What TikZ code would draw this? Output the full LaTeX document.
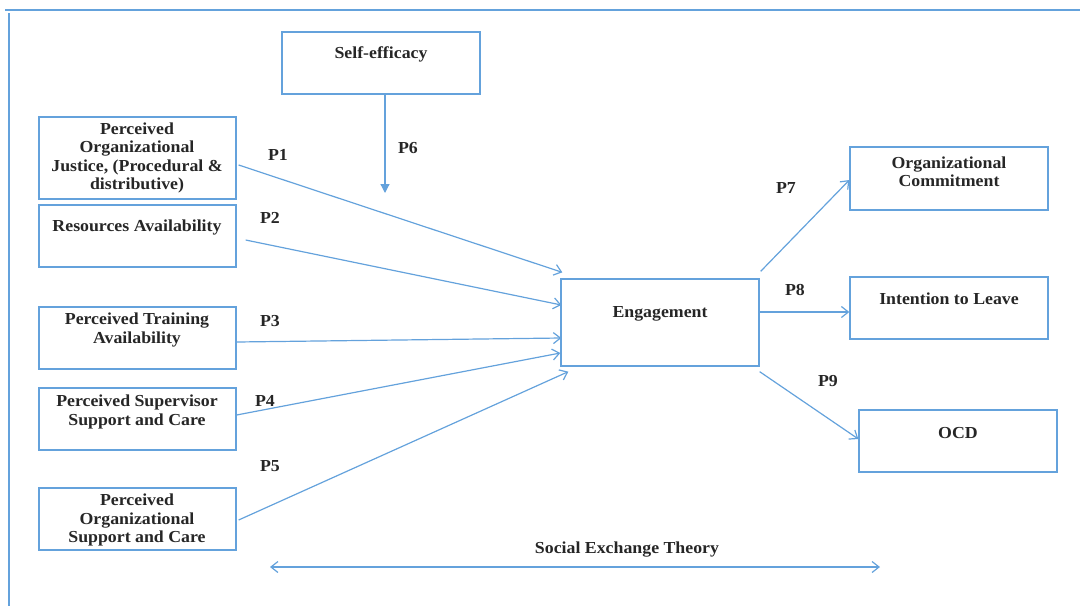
\documentclass[tikz,border=0pt]{standalone}
\usepackage{fontspec}
\setmainfont{Liberation Serif}[FakeStretch=1.06]
\usetikzlibrary{arrows.meta,calc}
\definecolor{lineblue}{RGB}{100,162,220}
\tikzset{
  box/.style={draw=lineblue, line width=1.3pt, rectangle, inner sep=0pt, minimum width=197pt},
  txt/.style={align=center, inner sep=0pt, font=\bfseries\fontsize{16.8}{18.5}\selectfont, text=black!85},
  plabel/.style={inner sep=0pt, font=\bfseries\fontsize{16.8}{18.5}\selectfont, text=black!85},
  conn/.style={draw=lineblue, line width=1.2pt, -{Straight Barb[length=7pt,width=11pt]}},
  frameline/.style={draw=lineblue, line width=1.3pt}
}
\begin{document}
\begin{tikzpicture}[x=1pt,y=-1pt]
\useasboundingbox (0,0) rectangle (1080,606);
% frame
\draw[frameline] (5,10) -- (1080,10);
\draw[frameline] (9,13) -- (9,606);
% boxes
\node[box, minimum width=198pt, minimum height=62pt] (self) at (381,63) {};
\node[box, minimum height=82pt] (poj) at (137.5,158) {};
\node[box, minimum height=62pt] (ra) at (137.5,236) {};
\node[box, minimum height=62pt] (pta) at (137.5,338) {};
\node[box, minimum height=62pt] (pss) at (137.5,419) {};
\node[box, minimum height=62pt] (pos) at (137.5,519) {};
\node[box, minimum width=198pt, minimum height=87pt] (eng) at (660,322.5) {};
\node[box, minimum width=198pt, minimum height=63pt] (oc) at (949,178.5) {};
\node[box, minimum width=198pt, minimum height=62pt] (itl) at (949,308) {};
\node[box, minimum width=198pt, minimum height=62pt] (ocd) at (958,441) {};
% texts
\node[txt] (tself) at (381,54) {Self-efficacy};
\node[txt] (tpoj) at (137,158) {Perceived\\Organizational\\Justice, (Procedural \&\\distributive)};
\node[txt] (tra) at (137,227) {Resources Availability};
\node[txt] (tpta) at (137,330) {Perceived Training\\Availability};
\node[txt] (tpss) at (137,412) {Perceived Supervisor\\Support and Care};
\node[txt] (tpos) at (137,520) {Perceived\\Organizational\\Support and Care};
\node[txt] (teng) at (660,314) {Engagement};
\node[txt] (toc) at (949,171.5) {Organizational\\Commitment};
\node[txt] (titl) at (949,299) {Intention to Leave};
\node[txt] (tocd) at (958,433) {OCD};
% labels
\node[plabel] (l1) at (278,155) {P1};
\node[plabel] (l2) at (270,218) {P2};
\node[plabel] (l3) at (270,321) {P3};
\node[plabel] (l4) at (265,401) {P4};
\node[plabel] (l5) at (270,466) {P5};
\node[plabel] (l6) at (408,148) {P6};
\node[plabel] (l7) at (786,188) {P7};
\node[plabel] (l8) at (795,290) {P8};
\node[plabel] (l9) at (828,381) {P9};
\node[txt] (tset) at (627,550) {Social Exchange Theory};
% connectors
\draw[conn] ($(poj.east)+(2,7)$) -- ($(eng.north west)+(2,-6)$);
\draw[conn] ($(ra.east)+(9,4)$) -- ($(eng.west)+(1,-17.5)$);
\draw[conn] ($(pta.east)+(0,4)$) -- ($(eng.west)+(1,15.5)$);
\draw[conn] ($(pss.east)+(0,-4)$) -- ($(eng.west)+(0,30.5)$);
\draw[conn] ($(pos.east)+(2,1)$) -- ($(eng.south west)+(8,5)$);
\coordinate (p6end) at (385,193);
\draw[draw=lineblue, line width=1.2pt, -{Triangle[length=9pt,width=9pt,fill=lineblue]}] ($(self.south)+(4,0)$) -- (p6end);
\draw[conn] ($(eng.north east)+(1,-7)$) -- ($(oc.west)+(0,1.5)$);
\draw[conn] ($(eng.east)+(0,-10.5)$) -- ($(itl.west)+(0,4)$);
\draw[conn] ($(eng.south east)+(0,5)$) -- ($(ocd.west)+(0,-2)$);
\coordinate (setl) at (270,567);
\coordinate (setr) at (880,567);
\draw[conn, {Straight Barb[length=7pt,width=11pt]}-{Straight Barb[length=7pt,width=11pt]}] (setl) -- (setr);
\end{tikzpicture}
\end{document}
